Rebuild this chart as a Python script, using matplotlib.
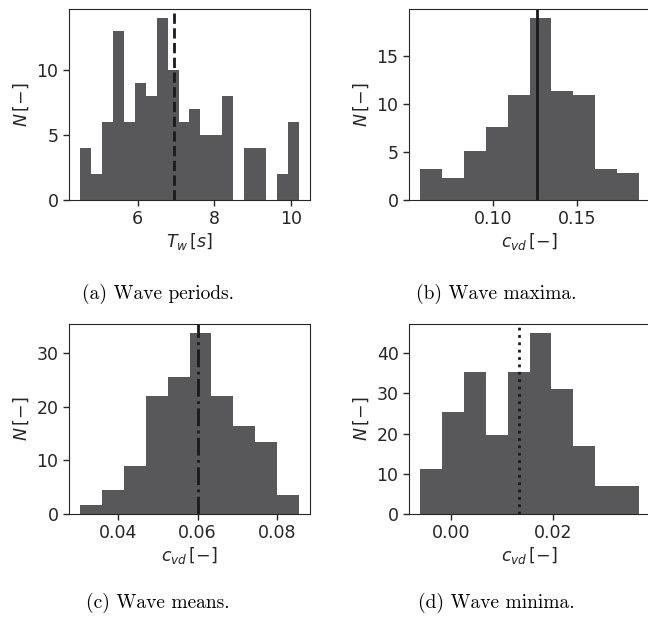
import numpy as np
import matplotlib
matplotlib.use('Agg')
import matplotlib.pyplot as plt

plt.rcParams['font.size'] = 12.5
plt.rcParams['text.color'] = '#262626'
plt.rcParams['axes.labelcolor'] = '#262626'
plt.rcParams['xtick.color'] = '#262626'
plt.rcParams['ytick.color'] = '#262626'
plt.rcParams['axes.edgecolor'] = '#262626'
plt.rcParams['mathtext.fontset'] = 'dejavusans'

BAR_COLOR = '#58585a'

# (a) wave periods
period_edges = np.linspace(4.5, 10.21, 21)
period_counts = [4, 2, 6, 13, 6, 9, 8, 14, 10, 6, 7, 5, 5, 8, 0, 4, 4, 0, 2, 6]
period_mean = 6.94
period_xticks = [6, 8, 10]

# (b) wave maxima
max_edges = np.linspace(0.0564, 0.1866, 11)
max_counts = [3.24, 2.34, 5.16, 7.57, 10.92, 18.97, 11.34, 10.92, 3.24, 2.83]
max_mean = 0.1259
max_xticks = [0.10, 0.15]

# (c) wave means
mean_edges = np.linspace(0.0304, 0.0855, 11)
mean_counts = [1.75, 4.4, 9.0, 22.0, 25.5, 33.75, 22.0, 16.4, 13.5, 3.6]
mean_mean = 0.0602
mean_xticks = [0.04, 0.06, 0.08]

# (d) wave minima
min_edges = np.linspace(-0.00604, 0.03684, 11)
min_counts = [11.26, 25.3, 35.3, 19.6, 35.3, 45.0, 31.1, 16.9, 6.96, 6.96]
min_mean = 0.01337
min_xticks = [0.00, 0.02]

panels = [
    (period_edges, period_counts, period_mean, period_xticks, '--', r'$T_w\,[s]$', '(a) Wave periods.'),
    (max_edges, max_counts, max_mean, max_xticks, '-', r'$c_{vd}\,[-]$', '(b) Wave maxima.'),
    (mean_edges, mean_counts, mean_mean, mean_xticks, '-.', r'$c_{vd}\,[-]$', '(c) Wave means.'),
    (min_edges, min_counts, min_mean, min_xticks, ':', r'$c_{vd}\,[-]$', '(d) Wave minima.'),
]

W, H = 648, 621
fig = plt.figure(figsize=(W / 100, H / 100), dpi=100)

# axes boxes in pixels: left, top, width, height
boxes = [(69, 9, 241, 191), (409, 9, 241, 191), (69, 324, 241, 190), (409, 324, 241, 190)]
captions_xy = [(158, 294), (496, 294), (158, 603), (496, 603)]

for (edges, counts, mean, xticks, ls, xlabel, caption), box, cxy in zip(panels, boxes, captions_xy):
    l, t, w, h = box
    ax = fig.add_axes([l / W, 1 - (t + h) / H, w / W, h / H])
    ax.bar(edges[:-1], counts, width=np.diff(edges), align='edge', color=BAR_COLOR, linewidth=0)
    ax.axvline(mean, color='#1a1a1a', linestyle=ls, linewidth=2)
    ax.set_xticks(xticks)
    ax.set_xlabel(xlabel, labelpad=2)
    ax.set_ylabel(r'$N\,[-]$')
    ax.tick_params(length=4, width=1)
    fig.text(cxy[0] / W, 1 - cxy[1] / H, caption, family='cmr10', fontsize=14,
             ha='center', va='center', color='black')

fig.savefig('out.png', dpi=100)
